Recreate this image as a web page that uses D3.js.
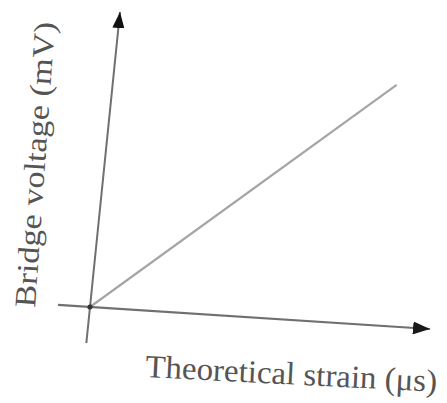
<!DOCTYPE html>
<html>
<head>
<meta charset="utf-8">
<script src="https://cdn.jsdelivr.net/npm/d3@7"></script>
<style>
  html, body { margin: 0; padding: 0; background: #fff; }
  svg { display: block; }
</style>
</head>
<body>
<svg id="chart" width="447" height="403"></svg>
<script>
// Bridge output against theoretical strain (arbitrary units, linear response)
const strain = [0, 83];          // theoretical strain, % of axis span
const voltage = [0, 81.5];       // bridge voltage, % of axis span
const strainDomain = [0, 100];
const voltageDomain = [0, 100];
const strainAxisExtent = [-9.4, 100];
const voltageAxisExtent = [-12.2, 100];
const xTitle = "Theoretical strain (\u03bcs)";
const yTitle = "Bridge voltage (mV)";

const svg = d3.select("#chart");
const W = 447, H = 403;
svg.append("rect").attr("width", W).attr("height", H).attr("fill", "#fff");

// axes are slightly skewed on the page, so the plot lives in an affine frame
const origin = [90, 307];
const xLen = 340, yLen = 295;
const skewXY = 22 / 340;   // x axis drops as it goes right
const skewYX = 30 / 295;   // y axis leans right as it goes up

const x = d3.scaleLinear().domain(strainDomain).range([0, xLen]);
const y = d3.scaleLinear().domain(voltageDomain).range([0, -yLen]);

const defs = svg.append("defs");
const arrow = (id, len, wid, color) => {
  defs.append("marker")
    .attr("id", id)
    .attr("viewBox", `0 ${-wid / 2} ${len} ${wid}`)
    .attr("refX", len).attr("refY", 0)
    .attr("markerUnits", "userSpaceOnUse")
    .attr("markerWidth", len).attr("markerHeight", wid)
    .attr("orient", "auto")
    .append("path")
    .attr("d", `M0,${-wid / 2}L${len},0L0,${wid / 2}Z`)
    .attr("fill", color);
};
arrow("arrX", 17, 13, "#1a1a1a");
arrow("arrY", 16, 12, "#111");

const plot = svg.append("g")
  .attr("transform", `matrix(1,${skewXY},${-skewYX},1,${origin[0]},${origin[1]})`);

// horizontal axis
plot.append("line")
  .attr("x1", x(strainAxisExtent[0])).attr("y1", 0)
  .attr("x2", x(strainAxisExtent[1])).attr("y2", 0)
  .attr("stroke", "#707070").attr("stroke-width", 2.2)
  .attr("marker-end", "url(#arrX)");

// vertical axis
plot.append("line")
  .attr("x1", 0).attr("y1", y(voltageAxisExtent[0]))
  .attr("x2", 0).attr("y2", y(voltageAxisExtent[1]))
  .attr("stroke", "#707070").attr("stroke-width", 2)
  .attr("marker-end", "url(#arrY)");

// response line
const line = d3.line().x((d, i) => x(strain[i])).y((d, i) => y(voltage[i]));
plot.append("path")
  .datum(strain)
  .attr("d", line)
  .attr("fill", "none")
  .attr("stroke", "#a5a5a5")
  .attr("stroke-width", 2.2);

// origin dot where the axes cross
plot.append("circle")
  .attr("cx", x(0)).attr("cy", y(0)).attr("r", 2.6)
  .attr("fill", "#333");

// titles
svg.append("text")
  .attr("transform", "translate(145,377) rotate(2.9)")
  .attr("font-family", "'Liberation Serif', 'Times New Roman', serif")
  .attr("font-size", 32)
  .attr("fill", "#555")
  .attr("textLength", 292)
  .attr("lengthAdjust", "spacingAndGlyphs")
  .text(xTitle);

svg.append("text")
  .attr("transform", "translate(35,308) rotate(-86)")
  .attr("font-family", "'Liberation Serif', 'Times New Roman', serif")
  .attr("font-size", 30)
  .attr("fill", "#555")
  .attr("textLength", 286)
  .attr("lengthAdjust", "spacingAndGlyphs")
  .text(yTitle);
</script>
</body>
</html>
